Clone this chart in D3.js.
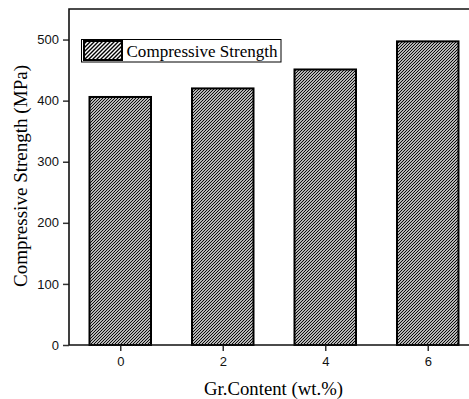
<!DOCTYPE html>
<html><head><meta charset="utf-8">
<script src="https://cdn.jsdelivr.net/npm/d3@7"></script>
<style>html,body{margin:0;padding:0;background:#fff;overflow:hidden}
.serif{font-family:"Liberation Serif","Times New Roman",serif}
.sans{font-family:"Liberation Sans",Arial,sans-serif}</style>
</head><body>
<script>
const categories = [0, 2, 4, 6];
const strength = [406, 420, 451, 497];
const yTicks = [0, 100, 200, 300, 400, 500];
const seriesName = "Compressive Strength";

const W = 469, H = 399;
const svg = d3.select("body").append("svg").attr("width", W).attr("height", H);
const defs = svg.append("defs");
function hatch(id, s, sw) {
  const p = defs.append("pattern").attr("id", id).attr("patternUnits", "userSpaceOnUse")
    .attr("width", s).attr("height", s);
  p.append("rect").attr("width", s).attr("height", s).attr("fill", "#fff");
  p.append("path").attr("d", `M${-s/2},${s/2} l${s},${-s} M0,${s} l${s},${-s} M${s/2},${s*1.5} l${s},${-s}`)
    .attr("stroke", "#000").attr("stroke-width", sw);
}
hatch("hb", 3, 1.1);
hatch("hl", 4, 1.4);

const x = d3.scaleLinear().domain([-1, 7]).range([69, 479]);
const y = d3.scaleLinear().domain([0, 550]).range([345, 9]);
const bw = (x(2) - x(0)) * 0.6;

// bars
svg.append("g").selectAll("rect").data(categories).join("rect")
  .attr("x", (d) => x(d) - bw / 2)
  .attr("y", (d, i) => y(strength[i]))
  .attr("width", bw)
  .attr("height", (d, i) => y(0) - y(strength[i]))
  .attr("fill", "url(#hb)").attr("stroke", "#000").attr("stroke-width", 2);

// axes
const ya = svg.append("g").attr("transform", `translate(${x(-1)},0)`)
  .call(d3.axisLeft(y).tickValues(yTicks).tickSize(6).tickSizeOuter(0).tickPadding(4));
const xa = svg.append("g").attr("transform", `translate(0,${y(0)})`)
  .call(d3.axisBottom(x).tickValues(categories).tickSize(6).tickSizeOuter(0).tickPadding(6));
[ya, xa].forEach(a => {
  a.select(".domain").remove();
  a.attr("font-family", null).attr("font-size", null);
  a.selectAll("line").attr("stroke", "#333").attr("stroke-width", 1.5);
  a.selectAll("text").attr("class", "sans").style("font-size", "13px").attr("fill", "#111");
});

// frame
svg.append("path")
  .attr("d", `M${x(-1)},${y(0)} V${y(550)} H${x(7)} M${x(-1)},${y(0)} H${x(7)}`)
  .attr("fill", "none").attr("stroke", "#111").attr("stroke-width", 1.6);

// legend
const lg = svg.append("g");
lg.append("rect").attr("x", 81.5).attr("y", 39.5).attr("width", 199.5).attr("height", 22.5)
  .attr("fill", "#fff").attr("stroke", "#000").attr("stroke-width", 1);
lg.append("rect").attr("x", 84).attr("y", 41).attr("width", 38).attr("height", 19)
  .attr("fill", "url(#hl)").attr("stroke", "#000").attr("stroke-width", 2);
lg.append("text").attr("class", "serif").attr("x", 126.5).attr("y", 57).text(seriesName)
  .style("font-size", "17px").attr("textLength", 151).attr("lengthAdjust", "spacingAndGlyphs").attr("fill", "#000");

// axis titles
svg.append("text").attr("class", "serif").attr("x", 273.5).attr("y", 395).attr("text-anchor", "middle")
  .text("Gr.Content (wt.%)").style("font-size", "18px")
  .attr("textLength", 139).attr("lengthAdjust", "spacingAndGlyphs").attr("fill", "#000");
svg.append("text").attr("class", "serif").attr("transform", "translate(27,176) rotate(-90)").attr("text-anchor", "middle")
  .text("Compressive Strength (MPa)").style("font-size", "18px")
  .attr("textLength", 222).attr("lengthAdjust", "spacingAndGlyphs").attr("fill", "#000");
</script>
</body></html>
